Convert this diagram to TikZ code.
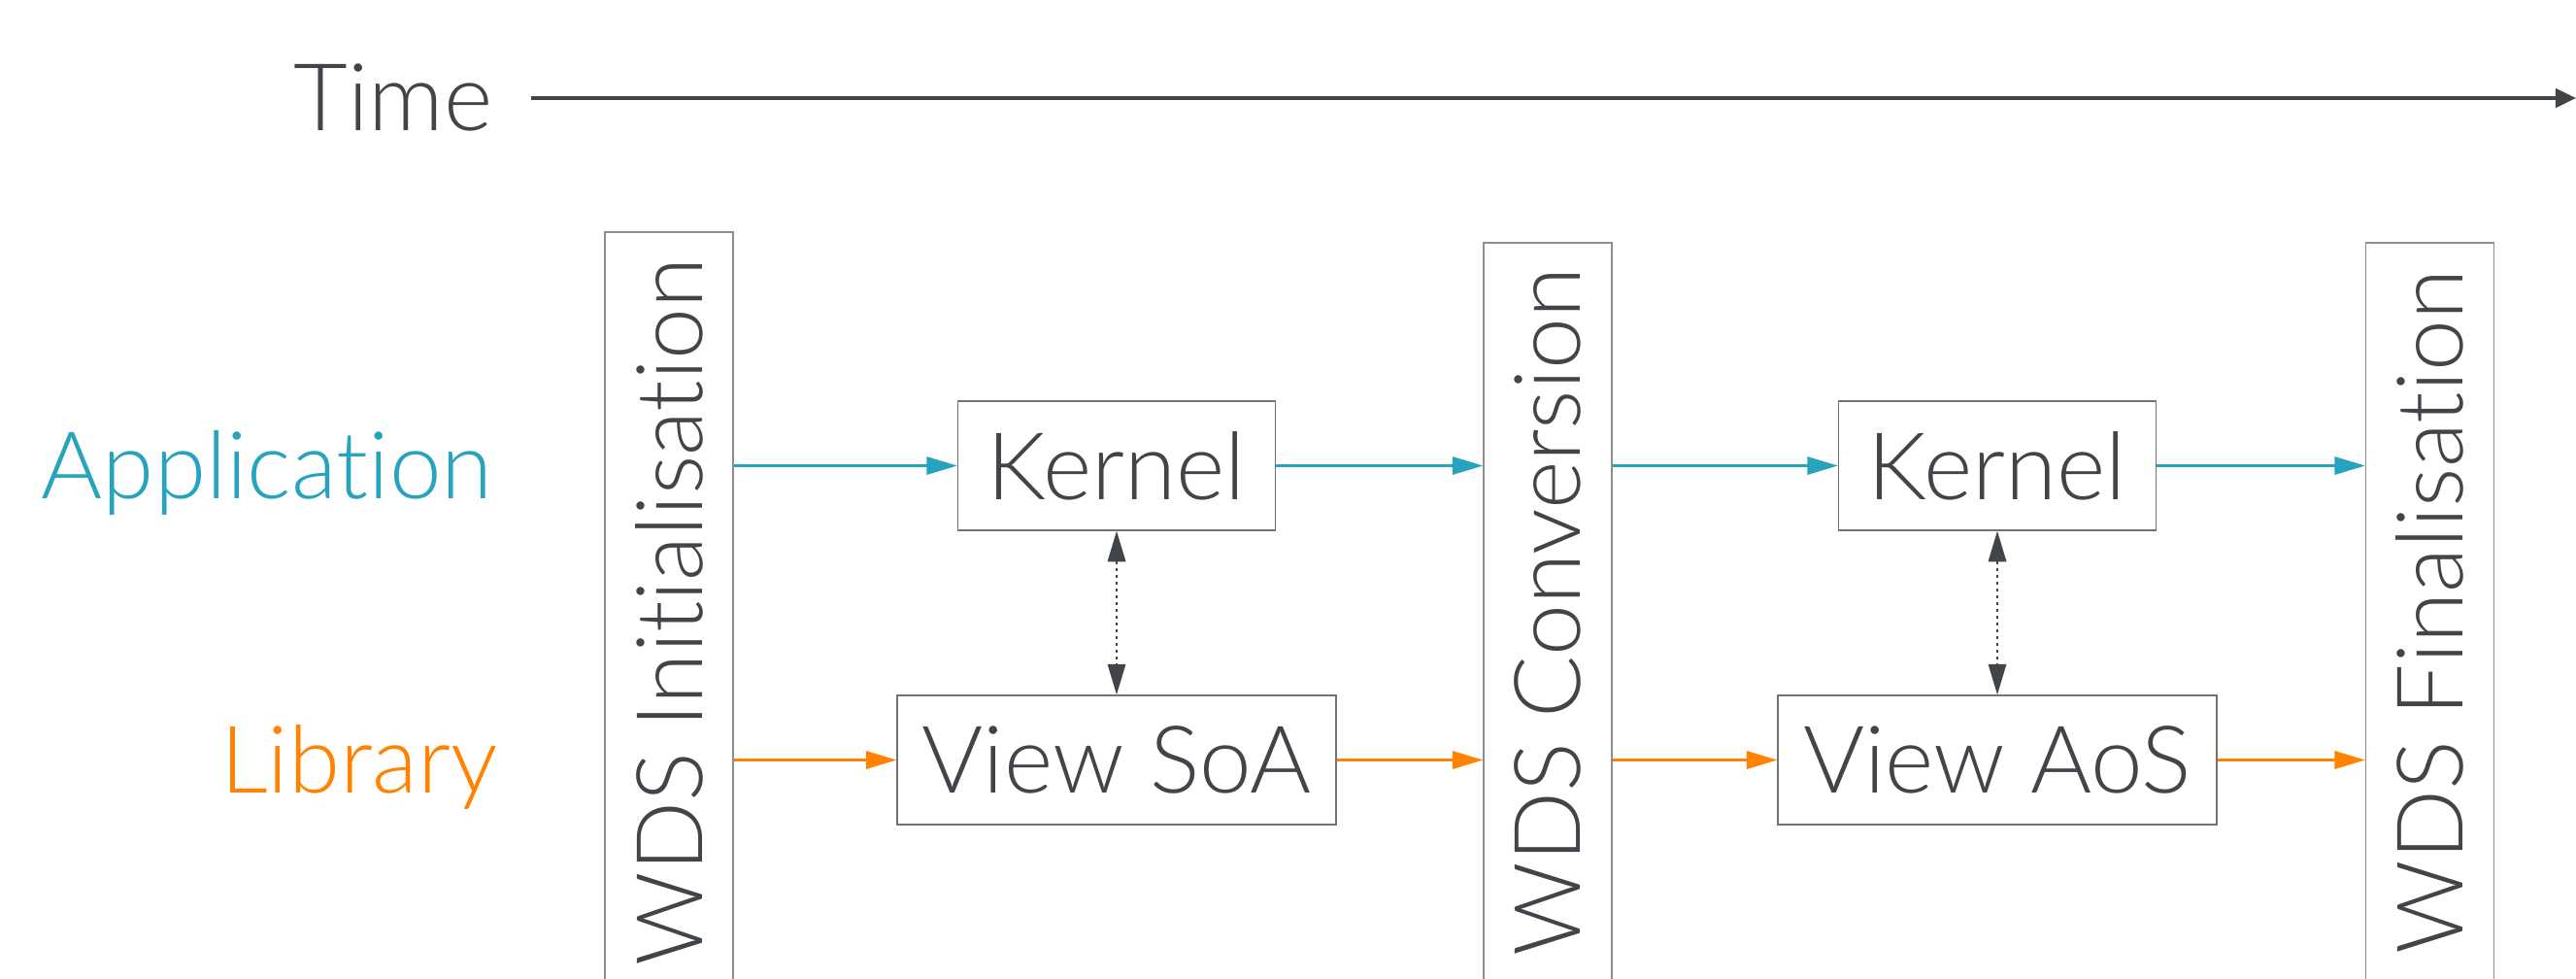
\documentclass[tikz,border=0pt]{standalone}
\usepackage{fontspec}
\setmainfont{Lato}[UprightFont={* Light}, Ligatures={CommonOff}]
\usepackage{graphicx}
\usepackage{xcolor}
\usetikzlibrary{arrows.meta, positioning}

\definecolor{inkgray}{HTML}{414449}
\definecolor{framegray}{HTML}{8E8E8E}
\definecolor{appblue}{HTML}{28A3BE}
\definecolor{liborange}{HTML}{FF8300}

\begin{document}
\begin{tikzpicture}[>={Triangle[length=9pt, width=5.2pt]},
					txt/.style={font=\fontsize{27.4pt}{32pt}\selectfont, text=inkgray, inner sep=0pt},
					phase/.style={draw=framegray, line width=0.35pt, minimum width=1.32cm, inner sep=0pt, text=inkgray, font=\fontsize{27pt}{32pt}\selectfont},
					task/.style={draw=inkgray!75, line width=0.35pt, minimum height=1.33cm, inner sep=0pt, text=inkgray, font=\fontsize{27.4pt}{32pt}\selectfont},
					appflow/.style={->, appblue, line width=0.75pt},
					libflow/.style={->, liborange, line width=0.75pt},
					link/.style={<->, inkgray, line width=0.7pt, dash pattern=on 0.9pt off 1.1pt}]
					
					\useasboundingbox (0,0) rectangle (26.53,-10.07);
					
					\node[txt, anchor=base east] (time) at (5.08,-1.34) {Time};
					\coordinate (tend) at (26.53,-1.01);
					\draw[->, inkgray, line width=1.1pt, >={Triangle[length=6pt, width=5.5pt]}, shorten <=0.39cm] (time.east |- tend) -- (tend);
					
					\node[txt, anchor=base east, text=appblue] (app) at (5.08,-5.13) {Application};
					\node[txt, anchor=base east, text=liborange] (lib) at (5.13,-8.16) {Library};
					
					\node[phase, minimum height=7.82cm] (init) at (6.89,-6.30) {\rotatebox{90}{WDS Initialisation}};
					\node[phase, minimum height=7.60cm] (conv) at (15.94,-6.30) {\rotatebox{90}{WDS Conversion}};
					\node[phase, minimum height=7.60cm] (fin) at (25.025,-6.30) {\rotatebox{90}{WDS Finalisation}};
					
					\node[task, minimum width=3.27cm] (kern1) at (11.50,-4.795) {Kernel};
					\node[task, minimum width=4.52cm] (view1) at (11.50,-7.825) {View SoA};
					\node[task, minimum width=3.27cm] (kern2) at (20.57,-4.795) {Kernel};
					\node[task, minimum width=4.52cm] (view2) at (20.57,-7.825) {View AoS};
					
					\draw[appflow] (init.east |- kern1) -- (kern1.west);
					\draw[appflow] (kern1.east) -- (conv.west |- kern1);
					\draw[appflow] (conv.east |- kern2) -- (kern2.west);
					\draw[appflow] (kern2.east) -- (fin.west |- kern2);
					
					\draw[libflow] (init.east |- view1) -- (view1.west);
					\draw[libflow] (view1.east) -- (conv.west |- view1);
					\draw[libflow] (conv.east |- view2) -- (view2.west);
					\draw[libflow] (view2.east) -- (fin.west |- view2);
					
					\draw[link] (kern1.south) -- (view1.north);
					\draw[link] (kern2.south) -- (view2.north);
				\end{tikzpicture}
\end{document}
